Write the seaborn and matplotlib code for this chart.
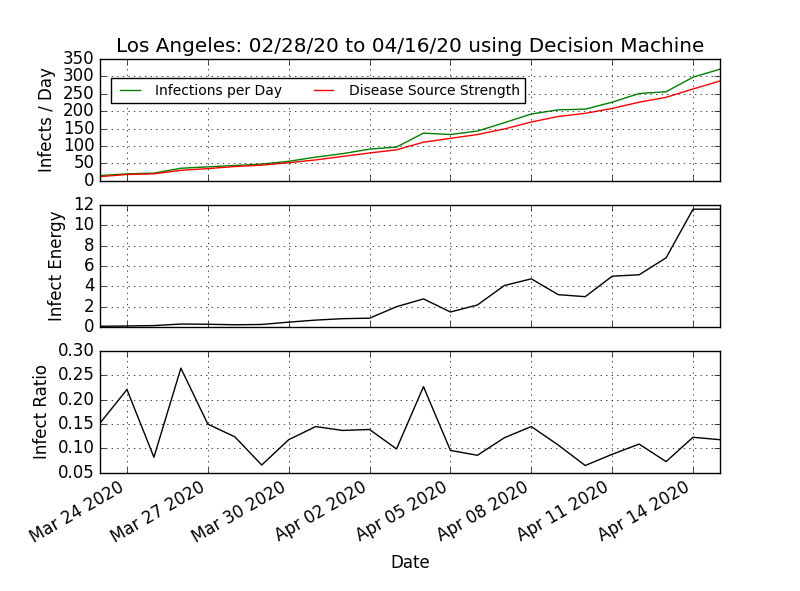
import pandas as pd
import matplotlib
matplotlib.use("Agg")
import matplotlib.pyplot as plt
import matplotlib.dates as mdates
import seaborn as sns

# Daily values, Mar 23 2020 .. Apr 15 2020
dates = pd.date_range("2020-03-23", "2020-04-15", freq="D")
infections_per_day = [15, 20, 22, 36, 40, 44, 48, 56, 68, 78, 91, 97,
                      137, 133, 143, 167, 192, 204, 206, 226, 251, 256, 298, 321]
source_strength = [12, 18, 20, 30, 35, 41, 45, 52, 60, 70, 80, 89,
                   111, 122, 133, 149, 169, 185, 194, 208, 226, 240, 264, 287]
infect_energy = [0.05, 0.08, 0.12, 0.27, 0.25, 0.2, 0.23, 0.46, 0.66, 0.8, 0.85, 1.98,
                 2.75, 1.46, 2.15, 4.07, 4.73, 3.17, 2.97, 4.99, 5.13, 6.8, 11.6, 11.6]
infect_ratio = [0.152, 0.221, 0.082, 0.265, 0.150, 0.124, 0.066, 0.118, 0.145, 0.137, 0.139, 0.099,
                0.227, 0.096, 0.086, 0.122, 0.145, 0.107, 0.065, 0.088, 0.109, 0.073, 0.123, 0.118]
tick_dates = pd.date_range("2020-03-24", periods=8, freq="3D")

plt.style.use("classic")

fig, axes = plt.subplots(3, 1, sharex=True, figsize=(8, 5.91), dpi=100)

# Top: infections and source strength
ax = axes[0]
sns.lineplot(x=dates, y=infections_per_day, ax=ax, color="g", label="Infections per Day")
sns.lineplot(x=dates, y=source_strength, ax=ax, color="r", label="Disease Source Strength")
ax.set_ylim(0, 350)
ax.set_ylabel("Infects / Day")
ax.set_title("Los Angeles: 02/28/20 to 04/16/20 using Decision Machine")
ax.legend(loc="upper left", bbox_to_anchor=(0.017, 0.842), borderaxespad=0,
          ncol=2, fontsize=10)
ax.grid(True)

# Middle: infect energy
ax = axes[1]
sns.lineplot(x=dates, y=infect_energy, ax=ax, color="k")
ax.set_ylim(0, 12)
ax.set_ylabel("Infect Energy")
ax.grid(True)

# Bottom: infect ratio
ax = axes[2]
sns.lineplot(x=dates, y=infect_ratio, ax=ax, color="k")
ax.set_ylim(0.05, 0.30)
ax.set_ylabel("Infect Ratio")
ax.set_xlabel("Date")
ax.grid(True)

ax.set_xlim(dates[0], dates[-1])
ax.set_xticks(tick_dates)
ax.xaxis.set_major_formatter(mdates.DateFormatter("%b %d %Y"))
fig.autofmt_xdate()

fig.savefig("out.png", facecolor="white")
